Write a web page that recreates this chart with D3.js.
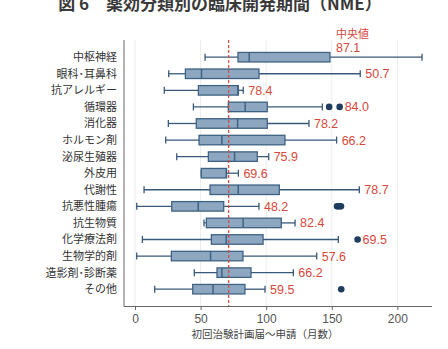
<!DOCTYPE html>
<html><head><meta charset="utf-8">
<script src="https://cdn.jsdelivr.net/npm/d3@7/dist/d3.min.js"></script>
<style>
html,body{margin:0;padding:0;background:#fff;}
svg{display:block;}
</style></head>
<body>
<svg id="chart" width="448" height="349"></svg>
<script>
const categories = ["中枢神経","眼科･耳鼻科","抗アレルギー","循環器","消化器","ホルモン剤","泌尿生殖器","外皮用","代謝性","抗悪性腫瘍","抗生物質","化学療法剤","生物学的剤","造影剤･診断薬","その他"];
const whiskerLow  = [53.4, 25.7, 22.3, 44.5, 25.4, 23.4, 31.8, 50.5, 6.9, 1.3, 52.6, 5.6, 1.3, 45.2, 15.0];
const q1          = [78.5, 38.4, 48.3, 71.1, 46.7, 48.8, 55.9, 50.5, 57.2, 28.0, 54.4, 58.2, 27.7, 62.5, 44.0];
const medians     = [87.1, 50.7, 78.4, 84.0, 78.2, 66.2, 75.9, 69.6, 78.7, 48.2, 82.4, 69.5, 57.6, 66.2, 59.5];
const q3          = [148.6, 94.5, 78.8, 100.8, 100.8, 114.3, 93.2, 69.8, 110.0, 67.6, 111.5, 97.6, 82.3, 88.4, 83.8];
const whiskerHigh = [218.8, 171.7, 82.5, 142.8, 132.6, 153.7, 101.9, 78.8, 171.0, 94.5, 122.0, 155.0, 138.5, 120.7, 99.1];
const outliers    = [[], [], [], [148, 156], [], [], [], [], [], [154, 155.5, 157], [], [169.7], [], [], [157.2]];
const overallMedian = 71.4;
const xTicks = [0, 50, 100, 150, 200];
const titleText = "図 6　薬効分類別の臨床開発期間（NME）";
const xTitle = "初回治験計画届～申請（月数）";
const medianHeader = "中央値";

(function () {
const svg = d3.select("#chart");
const pLeft = 124, pRight = 432, pTop = 40, pBottom = 306;
const x = d3.scaleLinear().domain([-8.4, 226.4]).range([pLeft, pRight]);
const y = d3.scalePoint().domain(categories).range([57.2, 289.2]);
const boxH = 9.5;
const jp = "'Noto Sans CJK JP', 'Noto Sans', sans-serif";
const num = "'Liberation Sans', Arial, sans-serif";
const red = "#d6483c";

// title
svg.append("text").attr("x", 220).attr("y", 10).attr("text-anchor", "middle")
  .attr("font-family", jp).attr("font-size", 17).attr("font-weight", "bold").attr("fill", "#3a3a3a")
  .text(titleText);

// grid
svg.append("g").selectAll("line").data(xTicks).join("line")
  .attr("x1", d => x(d)).attr("x2", d => x(d)).attr("y1", pTop).attr("y2", pBottom)
  .attr("stroke", "#ececec").attr("stroke-width", 1);

// axes
const xAxis = d3.axisBottom(x).tickValues(xTicks).tickSize(4).tickPadding(4);
const gx = svg.append("g").attr("transform", `translate(0,${pBottom})`).call(xAxis);
gx.select(".domain").attr("stroke", "#666").attr("d", `M${pLeft},0.5H${pRight}`);
gx.selectAll(".tick line").attr("stroke", "#666");
gx.selectAll(".tick text").attr("font-family", num).attr("font-size", 12).attr("fill", "#555");

svg.append("line").attr("x1", pLeft).attr("x2", pLeft).attr("y1", pTop).attr("y2", pBottom + 0.5)
  .attr("stroke", "#666").attr("stroke-width", 1);

const gy = svg.append("g");
gy.selectAll("text").data(categories).join("text")
  .attr("x", 117).attr("y", d => y(d)).attr("dy", "0.36em").attr("text-anchor", "end")
  .attr("font-family", jp).attr("font-size", 11).attr("fill", "#333")
  .text(d => d);

svg.append("text").attr("x", 265).attr("y", 338).attr("text-anchor", "middle")
  .attr("font-family", jp).attr("font-size", 10.5).attr("fill", "#444").text(xTitle);

// boxes
const wColor = "#38597a", boxFill = "#8ea7c1", boxStroke = "#3e6283";
const rows = categories.map((c, i) => ({c, i}));
const g = svg.append("g");
rows.forEach(({c, i}) => {
  const cy = y(c);
  g.append("line").attr("x1", x(whiskerLow[i])).attr("x2", x(q1[i])).attr("y1", cy).attr("y2", cy)
    .attr("stroke", wColor).attr("stroke-width", 1.3);
  g.append("line").attr("x1", x(q3[i])).attr("x2", x(whiskerHigh[i])).attr("y1", cy).attr("y2", cy)
    .attr("stroke", wColor).attr("stroke-width", 1.3);
  [whiskerLow[i], whiskerHigh[i]].forEach(v => {
    g.append("line").attr("x1", x(v)).attr("x2", x(v)).attr("y1", cy - 3.5).attr("y2", cy + 3.5)
      .attr("stroke", wColor).attr("stroke-width", 1.3);
  });
  g.append("rect").attr("x", x(q1[i])).attr("y", cy - boxH / 2)
    .attr("width", x(q3[i]) - x(q1[i])).attr("height", boxH)
    .attr("fill", boxFill).attr("stroke", boxStroke).attr("stroke-width", 1.3);
  g.append("line").attr("x1", x(medians[i])).attr("x2", x(medians[i])).attr("y1", cy - boxH / 2).attr("y2", cy + boxH / 2)
    .attr("stroke", boxStroke).attr("stroke-width", 1.5);
  outliers[i].forEach(v => {
    g.append("circle").attr("cx", x(v)).attr("cy", cy).attr("r", 3.3).attr("fill", "#1f3d5c");
  });
});

// overall median line
svg.append("line").attr("x1", x(overallMedian)).attr("x2", x(overallMedian)).attr("y1", pTop).attr("y2", pBottom)
  .attr("stroke", red).attr("stroke-width", 1.2).attr("stroke-dasharray", "3,2");

// labels
const labelW = 24;
rows.forEach(({c, i}) => {
  const cy = y(c);
  const txt = medians[i].toFixed(1);
  if (i === 0) {
    const lx = x(q3[i]) + 6;
    svg.append("text").attr("x", lx).attr("y", cy - 10).attr("dy", "0.36em")
      .attr("font-family", num).attr("font-size", 12.5).attr("fill", red).text(txt);
    svg.append("text").attr("x", lx).attr("y", cy - 23).attr("dy", "0.36em")
      .attr("font-family", jp).attr("font-size", 11).attr("fill", red).text(medianHeader);
    return;
  }
  let lx = x(whiskerHigh[i]) + 5;
  const hit = outliers[i].filter(v => x(v) + 3.3 > lx && x(v) - 3.3 < lx + labelW);
  if (hit.length) lx = x(d3.max(hit)) + 5;
  svg.append("text").attr("x", lx).attr("y", cy).attr("dy", "0.36em")
    .attr("font-family", num).attr("font-size", 12.5).attr("fill", red).text(txt);
});
})();
</script>
</body></html>
